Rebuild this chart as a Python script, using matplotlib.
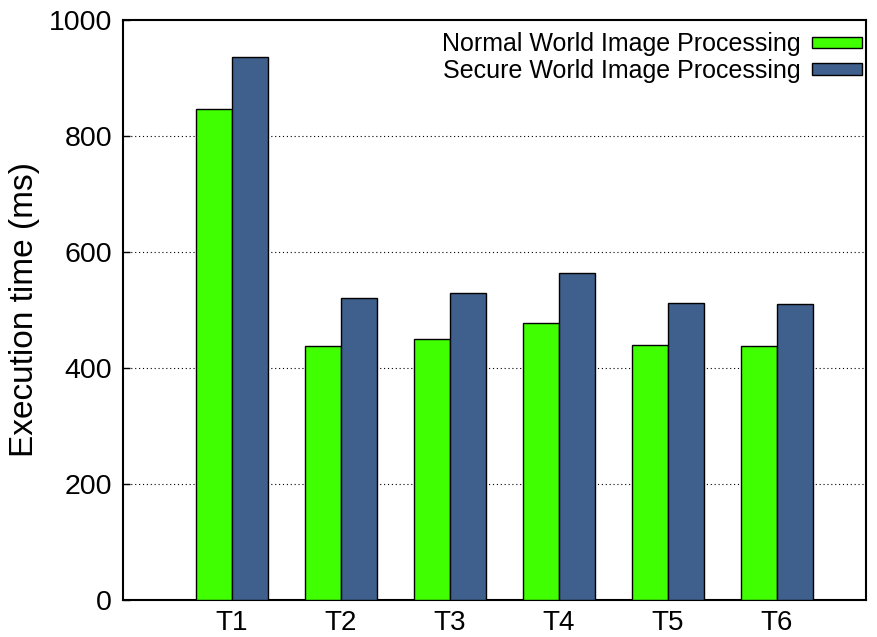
import matplotlib
matplotlib.use('Agg')
import matplotlib.pyplot as plt
import numpy as np

# Values
tasks = ['T1', 'T2', 'T3', 'T4', 'T5', 'T6']
normal_ms = [846, 438, 450, 478, 439, 438]
secure_ms = [937, 520, 529, 563, 512, 511]
y_ticks = [0, 200, 400, 600, 800, 1000]

GREEN = '#3fff00'
BLUE = '#3f5f8c'

plt.rcParams['font.family'] = ['Liberation Sans', 'DejaVu Sans']

fig = plt.figure(figsize=(8.77, 6.37), dpi=100, facecolor='white')
ax = fig.add_axes([0.1403, 0.0581, 0.8472, 0.9105])

x = np.arange(len(tasks))
width = 0.33
ax.bar(x - width / 2, normal_ms, width, color=GREEN, edgecolor='black',
       linewidth=1.0, label='Normal World Image Processing', zorder=3)
ax.bar(x + width / 2, secure_ms, width, color=BLUE, edgecolor='black',
       linewidth=1.0, label='Secure World Image Processing', zorder=3)

ax.set_xlim(-1, 5.82)
ax.set_ylim(0, 1000)
ax.set_xticks(x)
ax.set_xticklabels(tasks, fontsize=20)
ax.set_yticks(y_ticks)
ax.set_yticklabels([str(v) for v in y_ticks], fontsize=20.5)
ax.tick_params(axis='x', length=0, pad=7)
ax.tick_params(axis='y', direction='in', length=5, width=1, pad=8)
ax.set_ylabel('Execution time (ms)', fontsize=24, labelpad=6)

for v in y_ticks[1:-1]:
    ax.axhline(v, color='black', linestyle=(0, (1, 2.5)), linewidth=0.8, zorder=1)

for s in ax.spines.values():
    s.set_linewidth(1.5)

ax.legend(loc='upper right', bbox_to_anchor=(1.0, 0.985), frameon=False,
          fontsize=18, markerfirst=False,
          handlelength=2.0, handleheight=0.35, labelspacing=0.1,
          handletextpad=0.45, borderaxespad=0.05, borderpad=0.1)

fig.savefig('out.png', dpi=100, facecolor='white')
